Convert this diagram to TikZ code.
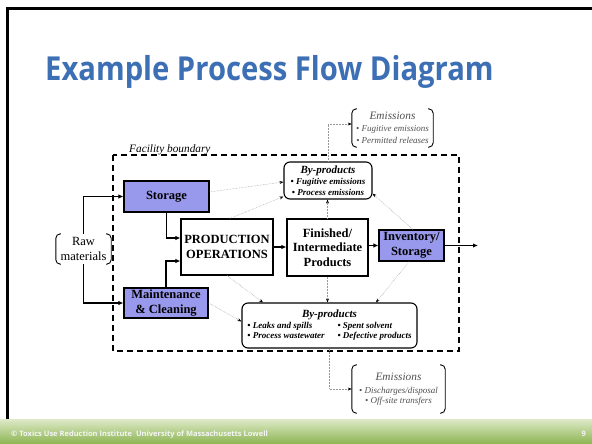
\documentclass[tikz,border=0pt]{standalone}
\usepackage{fontspec}
\usepackage{graphicx}
\setmainfont{Liberation Serif}
\newfontfamily\titlefont{Open Sans}
\usetikzlibrary{arrows.meta}
\definecolor{titleblue}{RGB}{61,111,181}
\definecolor{pbox}{RGB}{152,152,236}
\definecolor{greenA}{RGB}{222,234,200}
\definecolor{greenB}{RGB}{140,180,82}
\definecolor{emgray}{RGB}{80,80,80}
\newcommand{\byptitle}{\bfseries\itshape\fontsize{11}{11}\selectfont}
\newcommand{\bypitem}{\bfseries\itshape\fontsize{9}{11}\selectfont}
\newcommand{\emtitle}{\itshape\fontsize{11.3}{11}\selectfont}
\newcommand{\emitem}{\itshape\fontsize{9}{11.5}\selectfont}
\begin{document}
\begin{tikzpicture}[x=1pt,y=-1pt,
  boxtext/.style={font=\bfseries\fontsize{12.5}{14.5}\selectfont, align=center, inner sep=0pt},
  procbox/.style={boxtext, draw, line width=1.2pt},
  purplebox/.style={procbox, fill=pbox},
  bypbox/.style={draw, line width=1.1pt, rounded corners=6pt, align=center, inner sep=0pt, font=\bypitem},
  bracketnode/.style={align=center, inner sep=0pt},
  bracketline/.style={line width=0.9pt, rounded corners=4.5pt},
  thickarrow/.style={line width=1.3pt, -{Latex[length=5pt,width=4.5pt]}},
  thinarrow/.style={gray!80, line width=0.5pt, densely dotted, -{Stealth[length=4pt,width=3pt,color=black]}},
  boundary/.style={line width=1.2pt, dash pattern=on 6pt off 4pt}
]
\useasboundingbox (0,0) rectangle (592,444);
\fill[white] (0,0) rectangle (592,444);

% slide frame and footer
\shade[top color=greenA, bottom color=greenB] (0,419) rectangle (592,444);
\draw[line width=2.5pt] (7.5,419) -- (7.5,8.5) -- (592,8.5);
\node[anchor=base west, inner sep=0pt, text=white!92!gray, font=\titlefont\bfseries\fontsize{7.5}{9}\selectfont] (foot) at (11,436) {© Toxics Use Reduction Institute\ \ University of Massachusetts Lowell};
\node[anchor=base east, inner sep=0pt, text=white!92!gray, font=\titlefont\bfseries\fontsize{7.5}{9}\selectfont] (page) at (586,436) {9};

% title
\node[anchor=base west, inner sep=0pt, text=titleblue, font=\titlefont\bfseries\fontsize{33}{36}\selectfont] (title) at (45,81) {\scalebox{0.885}[1]{Example Process Flow Diagram}};

% facility boundary
\draw[boundary] (113,155) rectangle (459,351);
\node[anchor=base west, inner sep=0pt, font=\itshape\fontsize{11.3}{13}\selectfont] (fb) at (129,152.5) {Facility boundary};

% process boxes
\node[purplebox, minimum width=85pt, minimum height=31pt] (storage) at (166.5,196.5) {Storage};
\node[purplebox, minimum width=84pt, minimum height=30pt] (maint) at (166,303) {Maintenance\\\& Cleaning};
\node[procbox, fill=white, minimum width=92pt, minimum height=56pt] (prod) at (227,247) {PRODUCTION\\OPERATIONS};
\node[procbox, fill=white, minimum width=81pt, minimum height=57pt] (fin) at (327.5,247.5) {Finished/\\Intermediate\\Products};
\node[purplebox, minimum width=65pt, minimum height=31pt] (inv) at (411.5,245.5) {Inventory/\\Storage};

% raw materials bracket
\node[bracketnode, minimum width=55pt, minimum height=30pt, font=\fontsize{12.5}{15}\selectfont] (raw) at (83.5,249) {Raw\\materials};
\draw[bracketline] ([xshift=5pt]raw.north west) -- (raw.north west) -- (raw.south west) -- ([xshift=5pt]raw.south west);
\draw[bracketline] ([xshift=-5pt]raw.north east) -- (raw.north east) -- (raw.south east) -- ([xshift=-5pt]raw.south east);

% by-products
\node[bypbox, minimum width=88pt, minimum height=37pt] (byp1) at (328,180.5)
  {{\byptitle By-products}\\[-0.5pt]{\bypitem • Fugitive emissions}\\{\bypitem • Process emissions}};
\node[bypbox, minimum width=175pt, minimum height=45pt] (byp2) at (329.5,325.5)
  {{\byptitle By-products}\\[0pt]{\bypitem\begin{tabular}{@{}l@{\hspace{13pt}}l@{}}• Leaks and spills & • Spent solvent\\[-1pt]• Process wastewater & • Defective products\end{tabular}}};

% emissions brackets
\node[bracketnode, text=emgray, font=\emitem, minimum width=81pt, minimum height=38pt] (em1) at (392.5,128)
  {{\emtitle Emissions}\\[0.5pt]{\emitem • Fugitive emissions}\\{\emitem • Permitted releases}};
\draw[bracketline] ([xshift=5pt]em1.north west) -- (em1.north west) -- (em1.south west) -- ([xshift=5pt]em1.south west);
\draw[bracketline] ([xshift=-5pt]em1.north east) -- (em1.north east) -- (em1.south east) -- ([xshift=-5pt]em1.south east);
\node[bracketnode, text=emgray, font=\emitem, minimum width=93pt, minimum height=48pt] (em2) at (398.5,389)
  {{\emtitle Emissions}\\[1.5pt]{\emitem • Discharges/disposal}\\[-1.5pt]{\emitem • Off-site transfers}};
\draw[bracketline] ([xshift=5pt]em2.north west) -- (em2.north west) -- (em2.south west) -- ([xshift=5pt]em2.south west);
\draw[bracketline] ([xshift=-5pt]em2.north east) -- (em2.north east) -- (em2.south east) -- ([xshift=-5pt]em2.south east);

% main flow
\coordinate (out) at (478,245.5);
\draw[thickarrow] (raw.north) |- (storage.west);
\draw[thickarrow] (raw.south) |- (maint.west);
\draw[thickarrow] (storage.south) |- ([yshift=9pt]prod.west);
\draw[thickarrow] (maint.north) |- ([yshift=-14pt]prod.west);
\draw[thickarrow] (prod.east) -- (fin.west |- prod.east);
\draw[thickarrow] (fin.east |- inv.west) -- (inv.west);
\draw[thickarrow] (inv.east) -- (out);

% by-product flows
\draw[thinarrow] ([yshift=4.5pt]storage.east) -- ([yshift=-1.5pt]byp1.west);
\draw[thinarrow] ([xshift=3pt]prod.north) -- ([yshift=3pt]byp1.south west);
\draw[thinarrow] (fin.north) -- (fin.north |- byp1.south);
\draw[thinarrow] ([xshift=1.5pt]inv.north) -- ([yshift=6pt]byp1.south east);
\draw[thinarrow] (prod.south) -- ([xshift=-66.5pt]byp2.north);
\draw[thinarrow] (maint.east) -- ([yshift=4pt]byp2.west);
\draw[thinarrow] (fin.south) -- (fin.south |- byp2.north);
\draw[thinarrow] ([xshift=-2.5pt]inv.south) -- ([xshift=46.5pt]byp2.north);
\draw[thinarrow] (byp1.north) |- ([yshift=4pt]em1.west);
\draw[thinarrow] (byp2.south) |- (em2.west);
\end{tikzpicture}
\end{document}
